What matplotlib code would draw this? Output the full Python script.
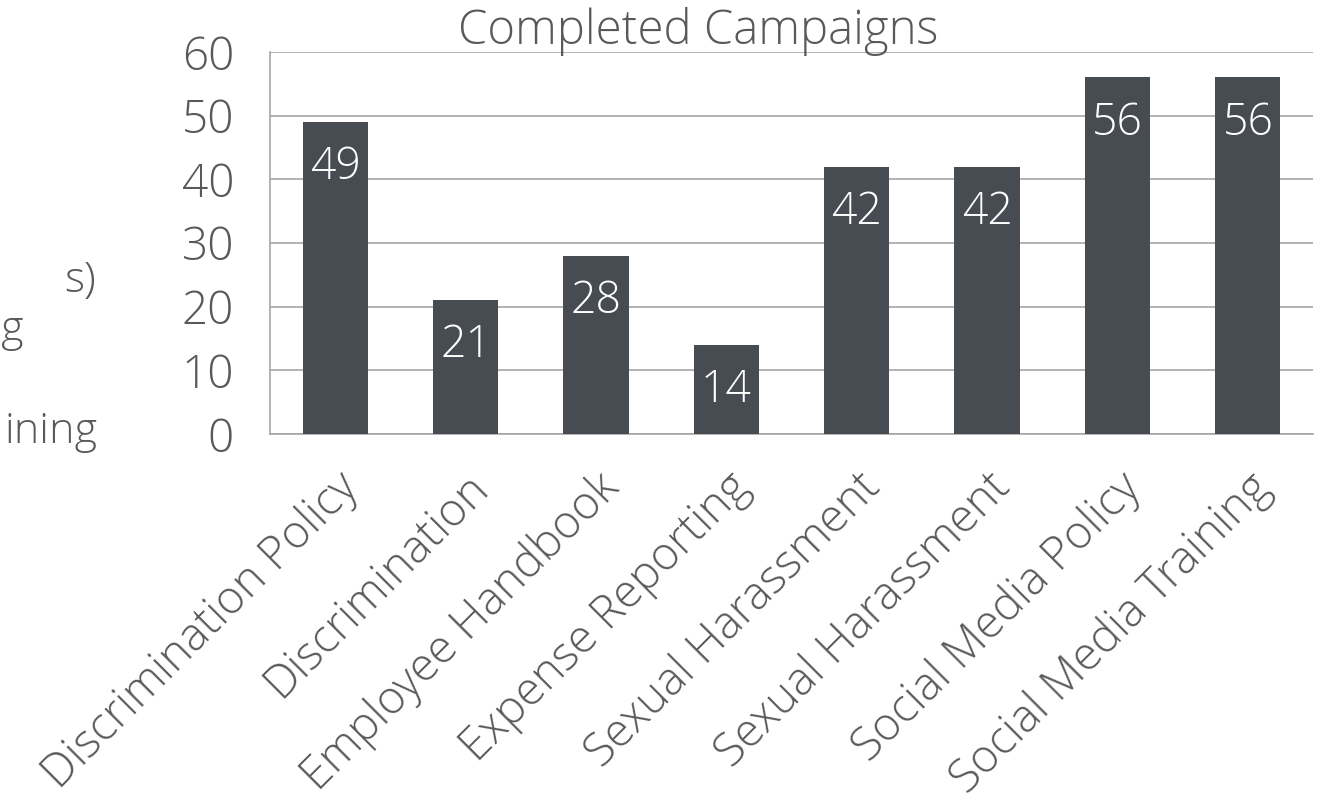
import matplotlib.pyplot as plt
from matplotlib import font_manager as fm

plt.rcParams['font.family'] = ['Open Sans', 'DejaVu Sans']

# data
campaigns = ['Discrimination Policy', 'Discrimination', 'Employee Handbook',
             'Expense Reporting', 'Sexual Harassment', 'Sexual Harassment',
             'Social Media Policy', 'Social Media Training']
completed = [49, 21, 28, 14, 42, 42, 56, 56]
yticks = [0, 10, 20, 30, 40, 50, 60]
# fragments of a legend cut by the left edge
legend_bits = ['s)', 'g', 'ining']

txt = '#595959'
bar_col = '#474c53'

# pick the plain (non condensed) Open Sans Light file so the look is stable
light_file = None
for f in fm.fontManager.ttflist:
    if f.name == 'Open Sans' and f.weight in (300, 'light') and f.stretch == 'normal' \
            and 'ondensed' not in f.fname and 'talic' not in f.fname:
        light_file = f.fname
        break


def fp(size):
    if light_file:
        return fm.FontProperties(fname=light_file, size=size)
    return fm.FontProperties(family='Open Sans', weight='light', size=size)


fig = plt.figure(figsize=(13.17, 8.02), dpi=100)
ax = fig.add_axes([270 / 1317, 1 - 434 / 802, (1313 - 270) / 1317, (434 - 52) / 802])

x = range(len(campaigns))
bars = ax.bar(x, completed, width=0.5, color=bar_col, zorder=3)

for xi, v in zip(x, completed):
    ax.annotate(str(v), (xi, v), xytext=(0, -33), textcoords='offset points',
                ha='center', va='center', color='white', fontproperties=fp(32), zorder=4)

ax.set_xlim(-0.5, len(campaigns) - 0.5)
ax.set_ylim(0, 60)
ax.set_yticks(yticks)
ax.grid(axis='y', color='#a6a6a6', linewidth=1.2, zorder=0)
for s in ['top', 'right']:
    ax.spines[s].set_visible(False)
for s in ['left', 'bottom']:
    ax.spines[s].set_color('#a6a6a6')
    ax.spines[s].set_linewidth(1.2)
ax.tick_params(axis='both', length=0, colors=txt)
ax.tick_params(axis='y', pad=26)
ax.tick_params(axis='x', pad=22)
ax.set_yticklabels([str(t) for t in yticks], fontproperties=fp(33))
ax.set_xticks(list(x))
ax.set_xticklabels(campaigns, rotation=45, ha='right', va='top',
                   rotation_mode='anchor', fontproperties=fp(33))

fig.text(698 / 1317, 1 - 31 / 802, 'Completed Campaigns', ha='center', va='center',
         color=txt, fontproperties=fp(34))

for label, xr, yc in zip(legend_bits, [96, 24, 97], [281, 330, 432]):
    fig.text(xr / 1317, 1 - yc / 802, label, ha='right', va='center',
             color=txt, fontproperties=fp(31))

fig.savefig('out.png', dpi=100)
